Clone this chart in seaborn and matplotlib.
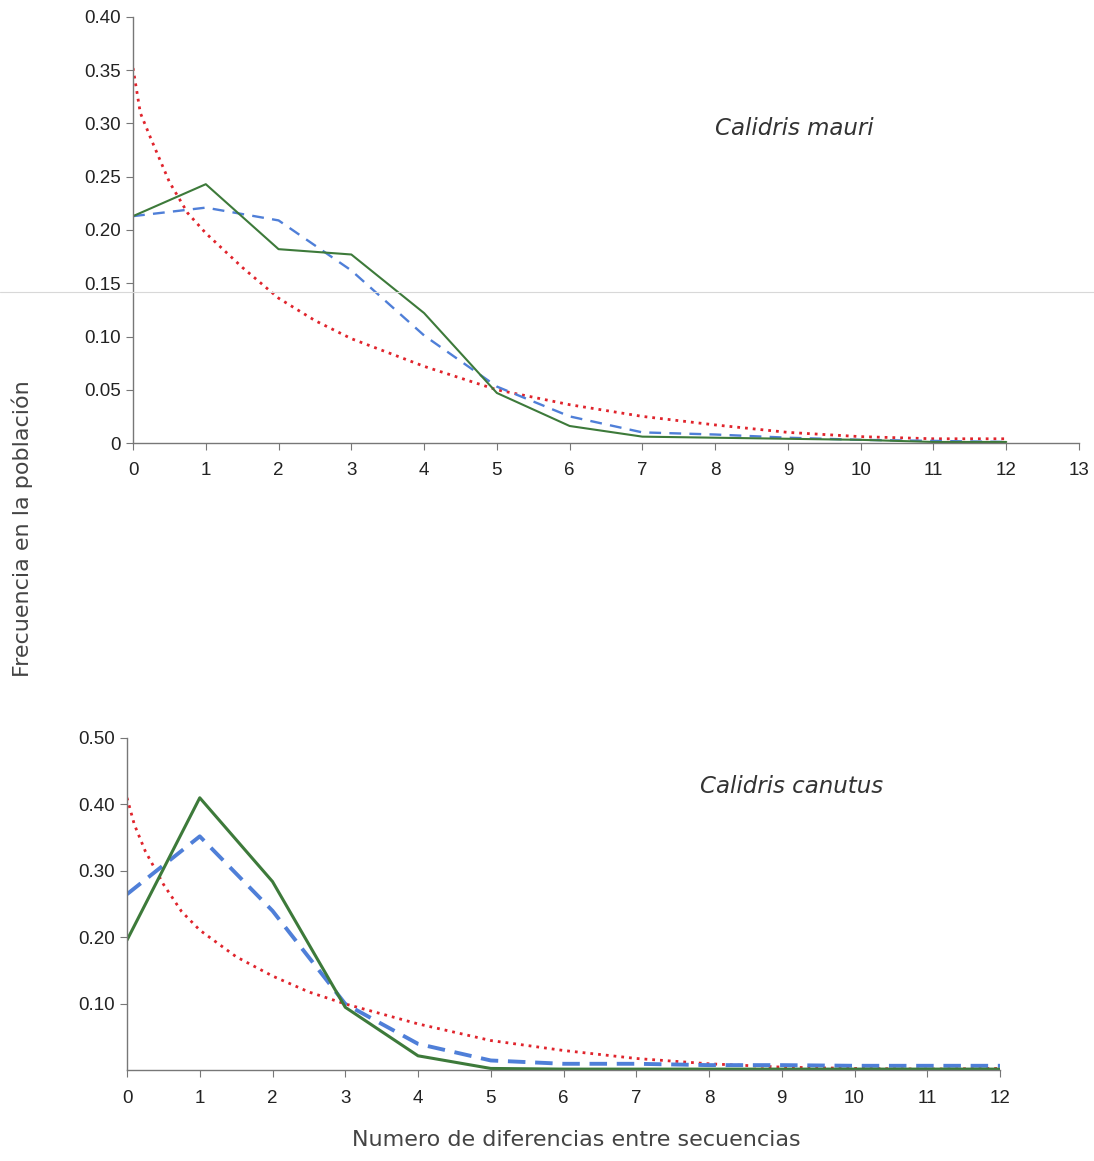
import matplotlib
matplotlib.use("Agg")
import matplotlib.pyplot as plt
import seaborn as sns
from matplotlib.lines import Line2D

# Calidris mauri (top panel)
mauri_x = [0, 1, 2, 3, 4, 5, 6, 7, 8, 9, 10, 11, 12]
mauri_obs = [0.213, 0.243, 0.182, 0.177, 0.122, 0.047, 0.016, 0.006, 0.005, 0.004, 0.003, 0.001, 0.001]
mauri_exp = [0.213, 0.221, 0.209, 0.162, 0.101, 0.053, 0.025, 0.010, 0.008, 0.005, 0.003, 0.002, 0.001]
mauri_const_x = [0, 0.1, 0.25, 0.5, 0.75, 1, 1.5, 2, 2.5, 3, 4, 5, 6, 7, 8, 9, 10, 11, 12]
mauri_const = [0.352, 0.31, 0.285, 0.245, 0.216, 0.197, 0.165, 0.136, 0.115, 0.098, 0.072, 0.050,
               0.036, 0.025, 0.017, 0.010, 0.006, 0.004, 0.004]

# Calidris canutus (bottom panel)
canutus_x = [0, 1, 2, 3, 4, 5, 6, 7, 8, 9, 10, 11, 12]
canutus_obs = [0.196, 0.410, 0.284, 0.095, 0.022, 0.003, 0.002, 0.002, 0.002, 0.002, 0.002, 0.002, 0.002]
canutus_exp = [0.265, 0.352, 0.240, 0.100, 0.040, 0.015, 0.010, 0.010, 0.008, 0.008, 0.007, 0.007, 0.007]
canutus_const_x = [0, 0.1, 0.25, 0.5, 0.75, 1, 1.5, 2, 2.5, 3, 4, 5, 6, 7, 8, 9, 10, 11, 12]
canutus_const = [0.41, 0.37, 0.33, 0.28, 0.239, 0.211, 0.171, 0.142, 0.118, 0.100, 0.070, 0.045,
                 0.030, 0.018, 0.010, 0.005, 0.003, 0.002, 0.003]

GREEN = "#3d7a3a"
BLUE = "#4f7fd8"
RED = "#e0242c"
AXIS = "#777777"

sns.set_style("white")
plt.rcParams["font.family"] = ["Liberation Sans", "DejaVu Sans"]

fig = plt.figure(figsize=(10.94, 11.61), dpi=100)
ax1 = fig.add_axes([0.1216, 0.6184, 0.8647, 0.367])
ax2 = fig.add_axes([0.1161, 0.0780, 0.798, 0.2864])


def draw_panel(ax, x, obs, exp, cx, const, lw_obs, lw_exp, dash):
    sns.lineplot(x=cx, y=const, ax=ax, color=RED, linewidth=2.0, linestyle=(0, (1, 1.8)))
    sns.lineplot(x=x, y=exp, ax=ax, color=BLUE, linewidth=lw_exp, linestyle=(0, dash))
    sns.lineplot(x=x, y=obs, ax=ax, color=GREEN, linewidth=lw_obs)
    for side in ["top", "right"]:
        ax.spines[side].set_visible(False)
    for side in ["left", "bottom"]:
        ax.spines[side].set_color(AXIS)
        ax.spines[side].set_linewidth(1.0)
    ax.tick_params(axis="both", direction="out", length=5, color=AXIS, labelsize=13.5,
                   left=True, bottom=True, labelcolor="#222222")
    ax.tick_params(axis="x", pad=9)
    ax.set_xlabel("")
    ax.set_ylabel("")


draw_panel(ax1, mauri_x, mauri_obs, mauri_exp, mauri_const_x, mauri_const, 1.5, 1.7, (5, 3.5))
ax1.set_xlim(0, 13)
ax1.set_ylim(0, 0.40)
ax1.set_xticks(range(0, 14))
ax1.set_yticks([0, 0.05, 0.10, 0.15, 0.20, 0.25, 0.30, 0.35, 0.40])
ax1.set_yticklabels(["0", "0.05", "0.10", "0.15", "0.20", "0.25", "0.30", "0.35", "0.40"])
ax1.text(0.615, 0.739, "Calidris mauri", transform=ax1.transAxes, fontsize=16.5,
         family="DejaVu Sans", style="italic", color="#333333", ha="left", va="center")

draw_panel(ax2, canutus_x, canutus_obs, canutus_exp, canutus_const_x, canutus_const, 2.2, 2.8, (4.5, 2.5))
ax2.set_xlim(0, 12)
ax2.set_ylim(0, 0.50)
ax2.set_xticks(range(0, 13))
ax2.set_yticks([0.10, 0.20, 0.30, 0.40, 0.50])
ax2.set_yticklabels(["0.10", "0.20", "0.30", "0.40", "0.50"])
ax2.text(0.656, 0.853, "Calidris canutus", transform=ax2.transAxes, fontsize=16.5,
         family="DejaVu Sans", style="italic", color="#333333", ha="left", va="center")

fig.text(0.02, 0.545, "Frecuencia en la población", rotation=90, fontsize=16,
         family="DejaVu Sans", color="#444444", ha="center", va="center")
fig.text(0.527, 0.018, "Numero de diferencias entre secuencias", fontsize=16,
         family="DejaVu Sans", color="#444444", ha="center", va="center")

# faint scan line across the page
fig.add_artist(Line2D([0, 1], [1 - 292 / 1161, 1 - 292 / 1161], transform=fig.transFigure,
                      color="#d8d8d8", linewidth=0.8))

fig.savefig("out.png", dpi=100)
